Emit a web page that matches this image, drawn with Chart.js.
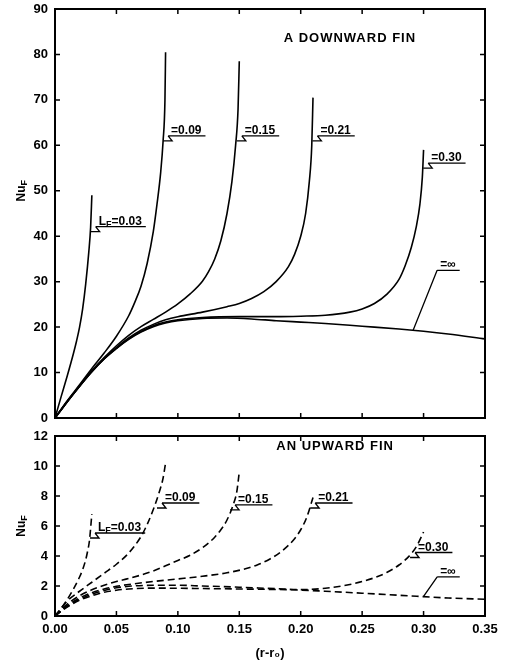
<!DOCTYPE html>
<html lang="en">
<head>
<meta charset="UTF-8">
<title>Nu_F along a downward and an upward fin</title>
<script src="https://cdn.jsdelivr.net/npm/chart.js"></script>
<style>
  body { margin: 0; background: #fff; }
  .wrap { position: relative; width: 505px; height: 665px; }
  #downChart { position: absolute; left: 0; top: 0; }
  #upChart { position: absolute; left: 0; top: 428px; }
</style>
</head>
<body>
<div class="wrap">
  <canvas id="downChart" width="505" height="428"></canvas>
  <canvas id="upChart" width="505" height="237"></canvas>
</div>
<script>
// tick values
const xTicks = [0, 0.05, 0.10, 0.15, 0.20, 0.25, 0.30, 0.35];
const downYTicks = [0, 10, 20, 30, 40, 50, 60, 70, 80, 90];
const upYTicks = [0, 2, 4, 6, 8, 10, 12];

// downward fin (solid lines)
const downX003 = [0, 0.005, 0.01, 0.015, 0.0175, 0.02, 0.0225, 0.025, 0.0275, 0.029, 0.03];
const downY003 = [0, 4.7, 9.3, 14.2, 16.9, 20, 24, 29.5, 36.5, 42, 49];
const downX009 = [0, 0.01, 0.02, 0.03, 0.04, 0.05, 0.06, 0.065, 0.07, 0.075, 0.08, 0.083, 0.086, 0.088, 0.0895, 0.09];
const downY009 = [0, 3.8, 7.3, 10.9, 14.3, 18, 22.5, 25.5, 29, 34, 41, 47, 54, 61, 70, 80.5];
const downX015 = [0, 0.01, 0.02, 0.03, 0.04, 0.05, 0.06, 0.07, 0.08, 0.09, 0.10, 0.11, 0.12, 0.125, 0.13, 0.135, 0.14, 0.144, 0.147, 0.149, 0.15];
const downY015 = [0, 3.7, 7.1, 10.4, 13.3, 15.9, 18.2, 20.1, 21.7, 23.3, 25.1, 27.3, 30.1, 32.2, 35, 39, 45, 52, 60, 68, 78.5];
const downX021 = [0, 0.01, 0.02, 0.03, 0.04, 0.05, 0.06, 0.07, 0.08, 0.09, 0.10, 0.12, 0.14, 0.15, 0.16, 0.17, 0.18, 0.19, 0.195, 0.20, 0.204, 0.207, 0.209, 0.21];
const downY021 = [0, 3.6, 7, 10.3, 13.1, 15.5, 17.6, 19.3, 20.6, 21.6, 22.3, 23.3, 24.5, 25.2, 26.3, 27.8, 30, 33.3, 36, 40, 45, 52, 60, 70.5];
const downX030 = [0, 0.01, 0.02, 0.03, 0.04, 0.05, 0.06, 0.07, 0.08, 0.09, 0.10, 0.12, 0.15, 0.18, 0.20, 0.22, 0.24, 0.25, 0.26, 0.27, 0.28, 0.285, 0.29, 0.294, 0.297, 0.299, 0.30];
const downY030 = [0, 3.6, 7, 10.2, 13, 15.3, 17.4, 19, 20.3, 21.1, 21.6, 22.1, 22.3, 22.3, 22.4, 22.6, 23.3, 24, 25.2, 27.2, 30.5, 33.5, 37.5, 42, 47, 53, 59];
const downXInf = [0, 0.01, 0.02, 0.03, 0.04, 0.05, 0.06, 0.07, 0.08, 0.09, 0.10, 0.12, 0.14, 0.16, 0.18, 0.20, 0.22, 0.25, 0.28, 0.30, 0.32, 0.35];
const downYInf = [0, 3.6, 7, 10.2, 13, 15.3, 17.3, 18.9, 20.1, 20.9, 21.4, 21.9, 22.0, 21.8, 21.4, 21.1, 20.8, 20.2, 19.6, 19.1, 18.5, 17.4];

// upward fin (dashed lines)
const upX003 = [0, 0.005, 0.01, 0.015, 0.02, 0.0225, 0.025, 0.0265, 0.028, 0.03];
const upY003 = [0, 0.5, 1.1, 1.8, 2.6, 3.1, 3.75, 4.3, 5.0, 6.8];
const upX009 = [0, 0.01, 0.02, 0.03, 0.04, 0.05, 0.06, 0.07, 0.075, 0.08, 0.085, 0.088, 0.09];
const upY009 = [0, 1.0, 1.65, 2.25, 2.85, 3.45, 4.2, 5.3, 6.1, 7.1, 8.3, 9.2, 10.2];
const upX015 = [0, 0.01, 0.02, 0.03, 0.04, 0.05, 0.06, 0.08, 0.09, 0.10, 0.11, 0.12, 0.13, 0.135, 0.14, 0.145, 0.148, 0.15];
const upY015 = [0, 0.8, 1.35, 1.75, 2.05, 2.3, 2.5, 3.0, 3.35, 3.7, 4.05, 4.55, 5.25, 5.75, 6.4, 7.4, 8.3, 9.6];
const upX021 = [0, 0.01, 0.02, 0.03, 0.04, 0.05, 0.06, 0.08, 0.10, 0.12, 0.14, 0.155, 0.165, 0.175, 0.185, 0.195, 0.20, 0.205, 0.21];
const upY021 = [0, 0.7, 1.2, 1.55, 1.8, 1.98, 2.1, 2.3, 2.47, 2.65, 2.88, 3.15, 3.42, 3.8, 4.35, 5.15, 5.75, 6.6, 7.9];
const upX030 = [0, 0.01, 0.02, 0.03, 0.04, 0.05, 0.06, 0.08, 0.10, 0.12, 0.15, 0.18, 0.20, 0.22, 0.24, 0.26, 0.27, 0.28, 0.29, 0.295, 0.30];
const upY030 = [0, 0.65, 1.1, 1.45, 1.7, 1.88, 1.98, 2.05, 2.05, 2.0, 1.92, 1.82, 1.76, 1.85, 2.1, 2.55, 2.9, 3.4, 4.15, 4.75, 5.6];
const upXInf = [0, 0.01, 0.02, 0.03, 0.04, 0.05, 0.06, 0.08, 0.10, 0.12, 0.15, 0.18, 0.20, 0.22, 0.25, 0.28, 0.30, 0.32, 0.35];
const upYInf = [0, 0.6, 1.05, 1.35, 1.58, 1.72, 1.8, 1.86, 1.85, 1.83, 1.8, 1.77, 1.73, 1.65, 1.52, 1.38, 1.29, 1.2, 1.12];

const tickFont = { family: 'Liberation Sans', size: 13, weight: 'bold' };

function pts(xs, ys) {
  return xs.map((v, i) => ({ x: v, y: ys[i] }));
}

function series(label, xs, ys, dashed) {
  return {
    label: label,
    data: pts(xs, ys),
    borderColor: '#000',
    borderWidth: 1.6,
    borderDash: dashed ? [7, 4] : [],
    pointRadius: 0,
    fill: false,
    cubicInterpolationMode: 'monotone'
  };
}

// draws text pieces, "sub" pieces smaller and lower; returns end x
function richText(ctx, parts, x, y) {
  parts.forEach(p => {
    ctx.font = 'bold ' + (p.sub ? 9 : 12) + 'px "Liberation Sans"';
    ctx.fillText(p.t, x, y + (p.sub ? 2 : 0));
    x += ctx.measureText(p.t).width;
  });
  return x;
}

// frame, inward ticks, titles and curve labels
const finDecor = {
  id: 'finDecor',
  afterDatasetsDraw(chart, args, opts) {
    const { ctx, chartArea: a, scales: { x, y } } = chart;
    ctx.save();
    ctx.strokeStyle = '#000';
    ctx.fillStyle = '#000';
    ctx.setLineDash([]);
    ctx.lineWidth = 2;
    ctx.strokeRect(a.left, a.top, a.right - a.left, a.bottom - a.top);

    ctx.lineWidth = 1.5;
    ctx.beginPath();
    x.ticks.forEach(t => {
      const px = x.getPixelForValue(t.value);
      if (px <= a.left + 1 || px >= a.right - 1) return;
      ctx.moveTo(px, a.bottom); ctx.lineTo(px, a.bottom - 5);
      ctx.moveTo(px, a.top); ctx.lineTo(px, a.top + 5);
    });
    y.ticks.forEach(t => {
      const py = y.getPixelForValue(t.value);
      if (py <= a.top + 1 || py >= a.bottom - 1) return;
      ctx.moveTo(a.left, py); ctx.lineTo(a.left + 5, py);
      ctx.moveTo(a.right, py); ctx.lineTo(a.right - 5, py);
    });
    ctx.stroke();

    // panel title
    ctx.font = 'bold 13px "Liberation Sans"';
    ctx.letterSpacing = '1px';
    ctx.textAlign = 'center';
    ctx.textBaseline = 'middle';
    ctx.fillText(opts.title, x.getPixelForValue(opts.titleAt[0]), y.getPixelForValue(opts.titleAt[1]));
    ctx.letterSpacing = '0px';

    // y axis title Nu_F, rotated
    ctx.save();
    ctx.translate(22, y.getPixelForValue(opts.yTitleAt));
    ctx.rotate(-Math.PI / 2);
    ctx.textAlign = 'left';
    ctx.textBaseline = 'middle';
    ctx.font = 'bold 12px "Liberation Sans"';
    const w1 = ctx.measureText('Nu').width;
    ctx.font = 'bold 9px "Liberation Sans"';
    const w2 = ctx.measureText('F').width;
    ctx.font = 'bold 12px "Liberation Sans"';
    ctx.fillText('Nu', -(w1 + w2) / 2, 0);
    ctx.font = 'bold 9px "Liberation Sans"';
    ctx.fillText('F', -(w1 + w2) / 2 + w1, 3);
    ctx.restore();

    // curve labels with leaders
    ctx.textAlign = 'left';
    ctx.textBaseline = 'alphabetic';
    ctx.lineWidth = 1.3;
    opts.labels.forEach(l => {
      const x0 = x.getPixelForValue(l.at[0]);
      const y0 = y.getPixelForValue(l.at[1]);
      let tx, ty;
      ctx.beginPath();
      if (l.slant) {
        // straight slanted leader for the L_F = infinity curve
        tx = x0 + l.slant[0];
        ty = y0 - l.slant[1];
        ctx.moveTo(x0, y0);
        ctx.lineTo(tx, ty);
      } else {
        // small zigzag leader
        ctx.moveTo(x0, y0);
        ctx.lineTo(x0 + 9, y0);
        ctx.lineTo(x0 + 5, y0 - 5);
        tx = x0 + 5;
        ty = y0 - 5;
      }
      const end = richText(ctx, l.parts, tx + 3, ty - 2);
      ctx.moveTo(tx, ty);
      ctx.lineTo(end + 4, ty);
      ctx.stroke();
    });
    ctx.restore();
  }
};

function xScale(showLabels) {
  return {
    type: 'linear',
    min: 0,
    max: 0.35,
    afterBuildTicks: s => { s.ticks = xTicks.map(v => ({ value: v })); },
    ticks: {
      display: showLabels,
      font: tickFont,
      color: '#000',
      padding: 6,
      callback: v => v.toFixed(2)
    },
    grid: { display: false, drawTicks: false },
    border: { display: false },
    title: {
      display: showLabels,
      text: '(r-r₀)',
      font: tickFont,
      color: '#000',
      padding: { top: 0, bottom: 4 }
    },
    afterFit: s => { s.height = showLabels ? 49 : 10; }
  };
}

function yScale(max, ticks) {
  return {
    type: 'linear',
    min: 0,
    max: max,
    afterBuildTicks: s => { s.ticks = ticks.map(v => ({ value: v })); },
    ticks: { font: tickFont, color: '#000', padding: 7 },
    grid: { display: false, drawTicks: false },
    border: { display: false },
    afterFit: s => {
      s.width = 55;
      // keep the plot frame exactly where the layout padding puts it
      s.paddingTop = 0;
      s.paddingBottom = 0;
    }
  };
}

new Chart(document.getElementById('downChart'), {
  type: 'line',
  data: {
    datasets: [
      series('L_F = 0.03', downX003, downY003, false),
      series('L_F = 0.09', downX009, downY009, false),
      series('L_F = 0.15', downX015, downY015, false),
      series('L_F = 0.21', downX021, downY021, false),
      series('L_F = 0.30', downX030, downY030, false),
      series('L_F = ∞', downXInf, downYInf, false)
    ]
  },
  options: {
    responsive: false,
    animation: false,
    layout: { padding: { top: 9, right: 20, left: 0, bottom: 0 } },
    scales: { x: xScale(false), y: yScale(90, downYTicks) },
    plugins: {
      legend: { display: false },
      tooltip: { enabled: false },
      finDecor: {
        title: 'A DOWNWARD FIN',
        titleAt: [0.24, 83.6],
        yTitleAt: 50,
        labels: [
          { at: [0.029, 41], parts: [{ t: 'L' }, { t: 'F', sub: true }, { t: '=0.03' }] },
          { at: [0.088, 61], parts: [{ t: '=0.09' }] },
          { at: [0.148, 61], parts: [{ t: '=0.15' }] },
          { at: [0.2095, 61], parts: [{ t: '=0.21' }] },
          { at: [0.2997, 55], parts: [{ t: '=0.30' }] },
          { at: [0.2915, 19.3], slant: [24, 60], parts: [{ t: '=∞' }] }
        ]
      }
    }
  },
  plugins: [finDecor]
});

new Chart(document.getElementById('upChart'), {
  type: 'line',
  data: {
    datasets: [
      series('L_F = 0.03', upX003, upY003, true),
      series('L_F = 0.09', upX009, upY009, true),
      series('L_F = 0.15', upX015, upY015, true),
      series('L_F = 0.21', upX021, upY021, true),
      series('L_F = 0.30', upX030, upY030, true),
      series('L_F = ∞', upXInf, upYInf, true)
    ]
  },
  options: {
    responsive: false,
    animation: false,
    layout: { padding: { top: 8, right: 20, left: 0, bottom: 0 } },
    scales: { x: xScale(true), y: yScale(12, upYTicks) },
    plugins: {
      legend: { display: false },
      tooltip: { enabled: false },
      finDecor: {
        title: 'AN UPWARD FIN',
        titleAt: [0.228, 11.33],
        yTitleAt: 6,
        labels: [
          { at: [0.0285, 5.2], parts: [{ t: 'L' }, { t: 'F', sub: true }, { t: '=0.03' }] },
          { at: [0.083, 7.2], parts: [{ t: '=0.09' }] },
          { at: [0.1425, 7.07], parts: [{ t: '=0.15' }] },
          { at: [0.2077, 7.2], parts: [{ t: '=0.21' }] },
          { at: [0.289, 3.9], parts: [{ t: '=0.30' }] },
          { at: [0.2997, 1.27], slant: [14, 20], parts: [{ t: '=∞' }] }
        ]
      }
    }
  },
  plugins: [finDecor]
});
</script>
</body>
</html>
